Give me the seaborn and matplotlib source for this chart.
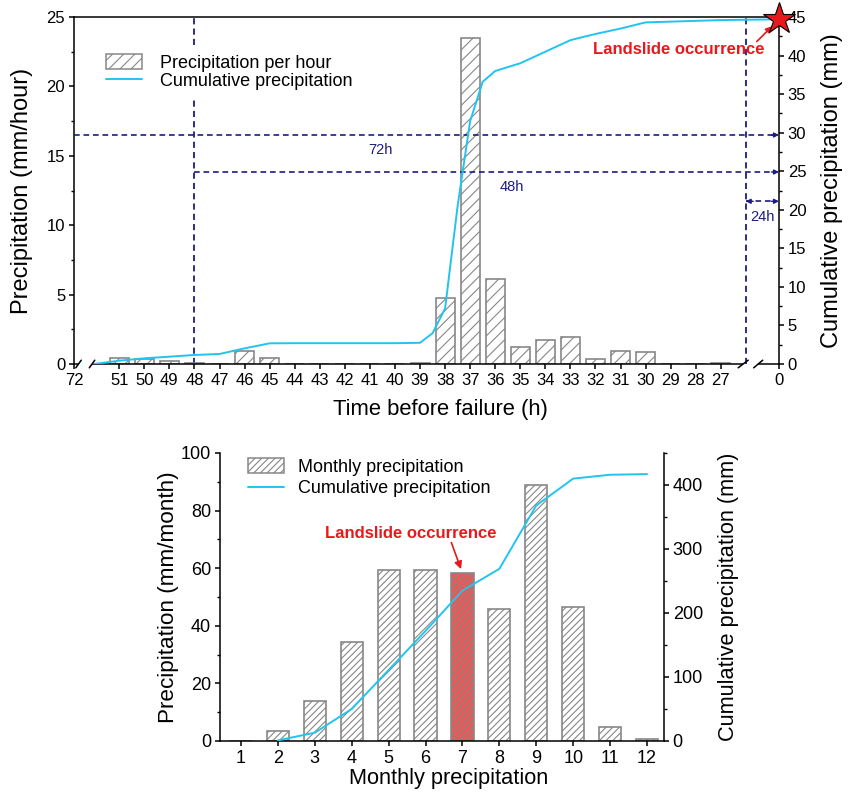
import numpy as np
import pandas as pd
import matplotlib
matplotlib.use("Agg")
import matplotlib.pyplot as plt
import matplotlib.transforms as mtransforms
from matplotlib.patches import Patch
from matplotlib.lines import Line2D
from matplotlib.ticker import MultipleLocator
import seaborn as sns

# ---------------- data ----------------
# hourly rainfall in the hours before slope failure
hours = [51, 50, 49, 48, 47, 46, 45, 44, 43, 42, 41, 40, 39, 38, 37, 36,
         35, 34, 33, 32, 31, 30, 29, 28, 27]
hourly_mm = [0.45, 0.35, 0.25, 0.1, 0.0, 0.95, 0.45, 0.0, 0.0, 0.0, 0.0, 0.0,
             0.1, 4.75, 23.5, 6.1, 1.25, 1.7, 1.95, 0.35, 0.95, 0.85, 0.0, 0.0, 0.1]

# cumulative rainfall curve (right axis)
cum_hours = [52, 51, 50, 49, 48, 47, 46, 45, 44, 43, 42, 41, 40, 39, 38.5, 38,
             37.5, 37, 36.5, 36, 35, 34, 33, 32, 31, 30, 29, 28, 27, 0]
cum_mm = [0.0, 0.43, 0.74, 0.95, 1.17, 1.3, 2.03, 2.68, 2.7, 2.7, 2.7, 2.7, 2.7,
          2.75, 4.0, 7.2, 20.5, 31.5, 36.6, 38.0, 39.0, 40.5, 42.0, 42.8, 43.5,
          44.3, 44.4, 44.5, 44.6, 44.7]

xtick_hours = [72] + hours + [0]

# antecedent rainfall windows and their totals (mm)
window_hours = [72, 48, 24]
window_labels = ["72h", "48h", "24h"]
window_totals = [29.7, 24.9, 21.1]

# monthly rainfall
months = [1, 2, 3, 4, 5, 6, 7, 8, 9, 10, 11, 12]
monthly_mm = [0.0, 3.5, 14.0, 34.5, 59.5, 59.2, 58.3, 45.8, 89.0, 46.5, 4.7, 0.8]
cum_months = [2, 3, 4, 5, 6, 7, 8, 9, 10, 11, 12]
monthly_cum_mm = [1, 13, 50, 111, 172, 235, 269, 368, 410, 416, 417]
failure_month = 7

# ---------------- style ----------------
sns.set_theme(style="ticks")
plt.rcParams["font.family"] = ["Liberation Sans", "DejaVu Sans"]
plt.rcParams["hatch.linewidth"] = 0.8
plt.rcParams["axes.linewidth"] = 1.1
for key in ("text.color", "axes.labelcolor", "xtick.color", "ytick.color",
            "axes.edgecolor"):
    plt.rcParams[key] = "black"

CYAN = "#22c4ee"
BAR_EDGE = "#878787"
NAVY = "#1c1c80"
RED = "#e8191c"
BAR_RED = "#e85a58"
DASH = (0, (3.4, 2.3))


def hour_pos(h):
    """Broken time axis: 72 h at the left edge, 52-27 h on a regular
    grid, and the 24-0 h stretch squeezed in after the right break."""
    if h >= 60:
        return 0.0
    if h >= 26:
        return 52.807 - h
    return 28.13 - h * (28.13 - 26.8) / 24.0


fig = plt.figure(figsize=(8.48, 7.96), dpi=100)

# ================= hourly panel =================
ax = fig.add_axes([0.08726, 0.54271, 0.83137, 0.43593])
ax2 = ax.twinx()

top_df = pd.DataFrame({"pos": [hour_pos(h) for h in hours], "rain": hourly_mm})
sns.barplot(data=top_df, x="pos", y="rain", native_scale=True, width=0.76,
            color="white", edgecolor=BAR_EDGE, linewidth=1.2, errorbar=None,
            ax=ax, zorder=2)
for p in ax.patches:
    p.set_hatch("///")
    p.set_facecolor("white")

cum_df = pd.DataFrame({"pos": [hour_pos(h) for h in cum_hours], "cum": cum_mm})
sns.lineplot(data=cum_df, x="pos", y="cum", color=CYAN, lw=1.4, ax=ax2, zorder=3)

XMAX = hour_pos(0)
ax.set_xlim(0, XMAX)
ax.set_ylim(0, 25)
ax2.set_ylim(0, 45)
ax2.set_xlim(0, XMAX)

ax.set_xticks([hour_pos(h) for h in xtick_hours])
ax.set_xticklabels([str(h) for h in xtick_hours])
ax.yaxis.set_major_locator(MultipleLocator(5))
ax.yaxis.set_minor_locator(MultipleLocator(2.5))
ax2.yaxis.set_major_locator(MultipleLocator(5))
ax2.yaxis.set_minor_locator(MultipleLocator(2.5))

for a in (ax, ax2):
    a.tick_params(axis="both", which="major", direction="out", length=3.8,
                  width=1.1, labelsize=12, color="black", pad=2.5)
    a.tick_params(axis="y", which="minor", direction="out", length=2.2,
                  width=1.0, color="black")

ax.spines["right"].set_visible(False)
ax.spines["bottom"].set_visible(False)
ax2.spines["left"].set_visible(False)
ax2.spines["bottom"].set_visible(False)
ax2.spines["top"].set_visible(False)

# broken bottom axis line with break marks
btrans = mtransforms.blended_transform_factory(ax.transData, ax.transAxes)
for x0, x1 in [(0.0, 0.18), (0.72, 26.7), (27.3, XMAX)]:
    ax.plot([x0, x1], [0, 0], color="black", lw=1.1, transform=btrans,
            clip_on=False, zorder=5, solid_capstyle="butt")
for xc, hw in [(0.18, 0.11), (0.72, 0.11), (26.7, 0.2), (27.3, 0.18)]:
    ax.plot([xc - hw, xc + hw], [-0.011, 0.011], color="black", lw=1.1,
            transform=btrans, clip_on=False, zorder=5)

# antecedent window markers
for h, lab, tot, lx in zip(window_hours, window_labels, window_totals,
                           [0.434, 0.621, 0.976]):
    x0 = hour_pos(h)
    if x0 > 0:
        ax.axvline(x0, color=NAVY, lw=1.3, ls=DASH, zorder=1)
    ax2.plot([x0, XMAX - 0.25], [tot, tot], color=NAVY, lw=1.2, ls=DASH, zorder=1)
    ax2.annotate("", xy=(XMAX, tot), xytext=(XMAX - 0.3, tot),
                 arrowprops=dict(arrowstyle="-|>", color=NAVY, lw=1.0,
                                 mutation_scale=7, shrinkA=0, shrinkB=0))
    if lab == "24h":
        ax2.annotate("", xy=(x0, tot), xytext=(x0 + 0.3, tot),
                     arrowprops=dict(arrowstyle="-|>", color=NAVY, lw=1.0,
                                     mutation_scale=7, shrinkA=0, shrinkB=0))
    ax2.annotate(lab, xy=(lx, tot), xycoords=("axes fraction", "data"),
                 xytext=(0, -11), textcoords="offset points", ha="center",
                 va="center", color=NAVY, fontsize=10.5)

# failure marker
ax2.plot([XMAX], [cum_mm[-1]], marker="*", ms=24, mfc=RED, mec="black",
         mew=0.8, clip_on=False, zorder=10)
ax2.annotate("", xy=(XMAX, cum_mm[-1]), xytext=(-16, -16),
             textcoords="offset points",
             arrowprops=dict(arrowstyle="-|>", color=RED, lw=1.2,
                             mutation_scale=9, shrinkA=0, shrinkB=7))
ax2.text(0.858, 0.905, "Landslide occurrence", transform=ax2.transAxes,
         ha="center", va="center", color=RED, fontsize=12, fontweight="bold")

ax.set_xlabel("Time before failure (h)", fontsize=15.8)
ax.xaxis.set_label_coords(0.52, -0.1)
ax.set_ylabel("Precipitation (mm/hour)", fontsize=17)
ax.yaxis.set_label_coords(-0.058, 0.5)
ax2.set_ylabel("Cumulative precipitation (mm)", fontsize=17)
ax2.yaxis.set_label_coords(1.06, 0.5)

handles = [Patch(facecolor="white", edgecolor=BAR_EDGE, hatch="///", lw=1.1),
           Line2D([], [], color=CYAN, lw=1.4)]
ax2.legend(handles, ["Precipitation per hour", "Cumulative precipitation"],
           loc="upper left", bbox_to_anchor=(0.033, 0.92), frameon=True,
           fancybox=False, edgecolor="none", facecolor="white", framealpha=1,
           borderpad=0.5, borderaxespad=0, handlelength=2.0, handleheight=0.9,
           handletextpad=0.95, labelspacing=0.05, fontsize=13)

# ================= monthly panel =================
bx = fig.add_axes([0.25943, 0.0691, 0.52358, 0.36181])
bx2 = bx.twinx()

mon_df = pd.DataFrame({"month": months, "rain": monthly_mm})
sns.barplot(data=mon_df, x="month", y="rain", native_scale=True, width=0.6,
            color="white", edgecolor=BAR_EDGE, linewidth=1.2, errorbar=None,
            ax=bx, zorder=2)
for m, p in zip(months, bx.patches):
    p.set_hatch("/////")
    p.set_facecolor(BAR_RED if m == failure_month else "white")

mcum_df = pd.DataFrame({"month": cum_months, "cum": monthly_cum_mm})
sns.lineplot(data=mcum_df, x="month", y="cum", color=CYAN, lw=1.4, ax=bx2, zorder=3)

bx.set_xlim(0.431, 12.46)
bx2.set_xlim(0.431, 12.46)
bx.set_ylim(0, 100)
bx2.set_ylim(0, 450)
bx.set_xticks(months)
bx.set_xticklabels([str(m) for m in months])
bx.yaxis.set_major_locator(MultipleLocator(20))
bx.yaxis.set_minor_locator(MultipleLocator(10))
bx2.yaxis.set_major_locator(MultipleLocator(100))
bx2.yaxis.set_minor_locator(MultipleLocator(50))

for a in (bx, bx2):
    a.tick_params(axis="both", which="major", direction="out", length=3.8,
                  width=1.1, labelsize=13, color="black", pad=2.5)
    a.tick_params(axis="y", which="minor", direction="out", length=2.2,
                  width=1.0, color="black")
    a.spines["top"].set_visible(False)
bx.spines["right"].set_visible(False)
bx2.spines["left"].set_visible(False)
bx2.spines["bottom"].set_visible(False)

bx.set_xlabel("Monthly precipitation", fontsize=15.7)
bx.xaxis.set_label_coords(0.514, -0.095)
bx.set_ylabel("Precipitation (mm/month)", fontsize=16.2)
bx.yaxis.set_label_coords(-0.092, 0.5)
bx2.set_ylabel("Cumulative precipitation (mm)", fontsize=15.7)
bx2.yaxis.set_label_coords(1.122, 0.5)

bx2.annotate("", xy=(failure_month, monthly_mm[failure_month - 1]),
             xycoords=bx.transData, xytext=(-8, 22), textcoords="offset points",
             arrowprops=dict(arrowstyle="-|>", color=RED, lw=1.2,
                             mutation_scale=11, shrinkA=0, shrinkB=3))
bx2.text(0.43, 0.719, "Landslide occurrence", transform=bx2.transAxes,
         ha="center", va="center", color=RED, fontsize=12, fontweight="bold")

mhandles = [Patch(facecolor="white", edgecolor=BAR_EDGE, hatch="/////", lw=1.1),
            Line2D([], [], color=CYAN, lw=1.4)]
bx2.legend(mhandles, ["Monthly precipitation", "Cumulative precipitation"],
           loc="upper left", bbox_to_anchor=(0.05, 1.0), frameon=False,
           borderpad=0.3, borderaxespad=0, handlelength=2.0, handleheight=0.9,
           handletextpad=0.8, labelspacing=0.2, fontsize=13)

fig.savefig("out.png", dpi=100)
